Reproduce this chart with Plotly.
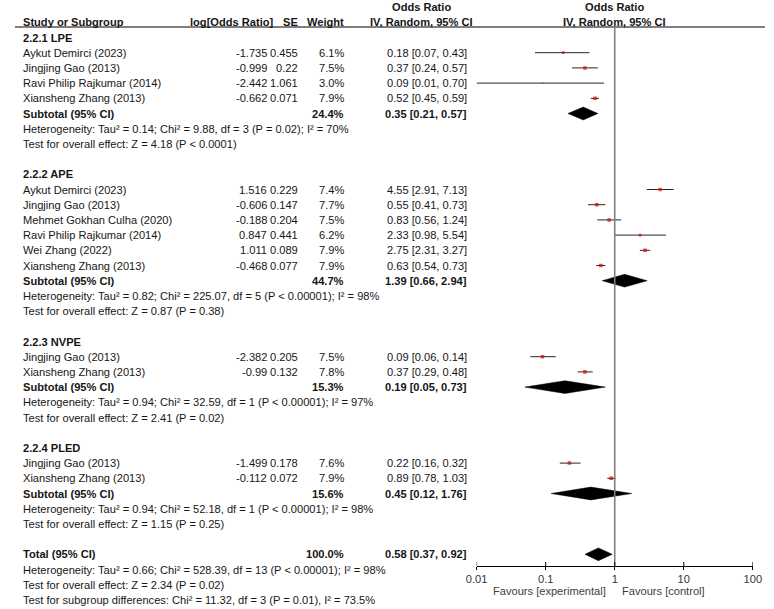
import plotly.graph_objects as go

# ---------------- data ----------------
lpe_studies = ["Aykut Demirci (2023)", "Jingjing Gao (2013)", "Ravi Philip Rajkumar (2014)", "Xiansheng Zhang (2013)"]
lpe_logor = [-1.735, -0.999, -2.442, -0.662]
lpe_se = [0.455, 0.22, 1.061, 0.071]
lpe_weight = [6.1, 7.5, 3.0, 7.9]
lpe_or = [0.18, 0.37, 0.09, 0.52]
lpe_lo = [0.07, 0.24, 0.01, 0.45]
lpe_hi = [0.43, 0.57, 0.70, 0.59]
lpe_subtotal = [24.4, 0.35, 0.21, 0.57]
lpe_het = "Heterogeneity: Tau² = 0.14; Chi² = 9.88, df = 3 (P = 0.02); I² = 70%"
lpe_test = "Test for overall effect: Z = 4.18 (P < 0.0001)"

ape_studies = ["Aykut Demirci (2023)", "Jingjing Gao (2013)", "Mehmet Gokhan Culha (2020)",
               "Ravi Philip Rajkumar (2014)", "Wei Zhang (2022)", "Xiansheng Zhang (2013)"]
ape_logor = [1.516, -0.606, -0.188, 0.847, 1.011, -0.468]
ape_se = [0.229, 0.147, 0.204, 0.441, 0.089, 0.077]
ape_weight = [7.4, 7.7, 7.5, 6.2, 7.9, 7.9]
ape_or = [4.55, 0.55, 0.83, 2.33, 2.75, 0.63]
ape_lo = [2.91, 0.41, 0.56, 0.98, 2.31, 0.54]
ape_hi = [7.13, 0.73, 1.24, 5.54, 3.27, 0.73]
ape_subtotal = [44.7, 1.39, 0.66, 2.94]
ape_het = "Heterogeneity: Tau² = 0.82; Chi² = 225.07, df = 5 (P < 0.00001); I² = 98%"
ape_test = "Test for overall effect: Z = 0.87 (P = 0.38)"

nvpe_studies = ["Jingjing Gao (2013)", "Xiansheng Zhang (2013)"]
nvpe_logor = [-2.382, -0.99]
nvpe_se = [0.205, 0.132]
nvpe_weight = [7.5, 7.8]
nvpe_or = [0.09, 0.37]
nvpe_lo = [0.06, 0.29]
nvpe_hi = [0.14, 0.48]
nvpe_subtotal = [15.3, 0.19, 0.05, 0.73]
nvpe_het = "Heterogeneity: Tau² = 0.94; Chi² = 32.59, df = 1 (P < 0.00001); I² = 97%"
nvpe_test = "Test for overall effect: Z = 2.41 (P = 0.02)"

pled_studies = ["Jingjing Gao (2013)", "Xiansheng Zhang (2013)"]
pled_logor = [-1.499, -0.112]
pled_se = [0.178, 0.072]
pled_weight = [7.6, 7.9]
pled_or = [0.22, 0.89]
pled_lo = [0.16, 0.78]
pled_hi = [0.32, 1.03]
pled_subtotal = [15.6, 0.45, 0.12, 1.76]
pled_het = "Heterogeneity: Tau² = 0.94; Chi² = 52.18, df = 1 (P < 0.00001); I² = 98%"
pled_test = "Test for overall effect: Z = 1.15 (P = 0.25)"

group_titles = ["2.2.1 LPE", "2.2.2 APE", "2.2.3 NVPE", "2.2.4 PLED"]

total_values = [100.0, 0.58, 0.37, 0.92]
total_het = "Heterogeneity: Tau² = 0.66; Chi² = 528.39, df = 13 (P < 0.00001); I² = 98%"
total_test = "Test for overall effect: Z = 2.34 (P = 0.02)"
subgroup_test = "Test for subgroup differences: Chi² = 11.32, df = 3 (P = 0.01), I² = 73.5%"

axis_ticks = [0.01, 0.1, 1, 10, 100]
axis_ticklabels = ["0.01", "0.1", "1", "10", "100"]

# ---------------- layout geometry ----------------
W, H = 774, 609
ROW0, ROWH = 37.5, 15.2          # pixel y of first row, row spacing
AXIS_Y = 566                     # pixel y of forest x axis
FX0, FX1 = 478, 761.5            # pixel extent of forest axis (0.01 .. 100)
FONT = "Liberation Sans, Arial, sans-serif"
FS = 11.1
TXT = "#161616"

X_LEFT = 11
X_LOGOR = 264
X_SE = 296
X_W = 343
X_CI = 469

groups = [
    (lpe_studies, lpe_logor, lpe_se, lpe_weight, lpe_or, lpe_lo, lpe_hi, lpe_subtotal, lpe_het, lpe_test),
    (ape_studies, ape_logor, ape_se, ape_weight, ape_or, ape_lo, ape_hi, ape_subtotal, ape_het, ape_test),
    (nvpe_studies, nvpe_logor, nvpe_se, nvpe_weight, nvpe_or, nvpe_lo, nvpe_hi, nvpe_subtotal, nvpe_het, nvpe_test),
    (pled_studies, pled_logor, pled_se, pled_weight, pled_or, pled_lo, pled_hi, pled_subtotal, pled_het, pled_test),
]

annotations = []


def txt(xpx, row, s, anchor="left", bold=False, color=TXT, size=FS):
    annotations.append(dict(
        x=xpx / W, xref="paper", y=row, yref="y", text=("<b>%s</b>" % s) if bold else s,
        xanchor=anchor, yanchor="middle", showarrow=False, borderpad=0,
        font=dict(family=FONT, size=size, color=color)))


def ci_text(o, l, h):
    return "%.2f [%.2f, %.2f]" % (o, l, h)


# headers
txt(421, -2, "Odds Ratio", "center", bold=True)
txt(620, -2, "Odds Ratio", "center", bold=True)
txt(X_LEFT, -1, "Study or Subgroup", "left", bold=True)
txt(270, -1, "log[Odds Ratio]", "right", bold=True)
txt(X_SE, -1, "SE", "right", bold=True)
txt(X_W, -1, "Weight", "right", bold=True)
txt(421, -1, "IV, Random, 95% CI", "center", bold=True)
txt(620, -1, "IV, Random, 95% CI", "center", bold=True)

ci_x, ci_y = [], []
sq_x, sq_y, sq_s = [], [], []
diamonds = []

row = 0
for title, g in zip(group_titles, groups):
    studies, logor, se, wt, orr, lo, hi, sub, het, test = g
    txt(X_LEFT, row, title, "left", bold=True)
    row += 1
    for i in range(len(studies)):
        txt(X_LEFT, row, studies[i])
        txt(X_LOGOR, row, str(logor[i]), "right")
        txt(X_SE, row, str(se[i]), "right")
        txt(X_W, row, "%.1f%%" % wt[i], "right")
        txt(X_CI, row, ci_text(orr[i], lo[i], hi[i]), "right")
        ci_x += [lo[i], hi[i], None]
        ci_y += [row, row, None]
        sq_x.append(orr[i]); sq_y.append(row); sq_s.append(wt[i] * 0.46)
        row += 1
    txt(X_LEFT, row, "Subtotal (95% CI)", bold=True)
    txt(X_W, row, "%.1f%%" % sub[0], "right", bold=True)
    txt(X_CI, row, ci_text(sub[1], sub[2], sub[3]), "right", bold=True)
    diamonds.append((row, sub[1], sub[2], sub[3]))
    row += 1
    txt(X_LEFT, row, het); row += 1
    txt(X_LEFT, row, test); row += 1
    row += 1

txt(X_LEFT, row, "Total (95% CI)", bold=True)
txt(X_W, row, "%.1f%%" % total_values[0], "right", bold=True)
txt(X_CI, row, ci_text(total_values[1], total_values[2], total_values[3]), "right", bold=True)
diamonds.append((row, total_values[1], total_values[2], total_values[3]))
row += 1
txt(X_LEFT, row, total_het); row += 1
txt(X_LEFT, row, total_test); row += 1
txt(X_LEFT, row, subgroup_test); row += 1

fig = go.Figure()

fig.add_trace(go.Scatter(x=ci_x, y=ci_y, mode="lines", line=dict(color="#262626", width=1),
                         hoverinfo="skip", showlegend=False))
fig.add_trace(go.Scatter(x=sq_x, y=sq_y, mode="markers",
                         marker=dict(symbol="square", size=sq_s, color="#e00000", line=dict(width=0)),
                         hoverinfo="skip", showlegend=False))
HALF = 0.42
for r, est, l, h in diamonds:
    fig.add_trace(go.Scatter(x=[l, est, h, est, l], y=[r, r - HALF, r, r + HALF, r],
                             mode="lines", fill="toself", fillcolor="black",
                             line=dict(color="black", width=0.5), hoverinfo="skip", showlegend=False))

row_of = lambda px: (px - ROW0) / ROWH
axis_pos = (H - AXIS_Y) / H

shapes = [
    # header underline
    dict(type="line", xref="paper", yref="paper", x0=4 / W, x1=1, y0=1 - 27 / H, y1=1 - 27 / H,
         line=dict(color="#555555", width=1.3)),
    # line of no effect
    dict(type="line", xref="x", yref="paper", x0=1, x1=1, y0=axis_pos, y1=1 - 27 / H,
         line=dict(color="#808080", width=1.6)),
]
for tv in axis_ticks:
    shapes.append(dict(type="line", xref="x", yref="paper", x0=tv, x1=tv,
                       y0=axis_pos, y1=axis_pos + 4 / H, line=dict(color="black", width=1)))

# favours labels
for label, xpx, anch in [("Favours [experimental]", 612, "right"), ("Favours [control]", 626, "left")]:
    annotations.append(dict(x=xpx / W, xref="paper", y=1 - 591 / H, yref="paper", text=label,
                            xanchor=anch, yanchor="middle", showarrow=False, borderpad=0,
                            font=dict(family=FONT, size=FS, color="#404040")))

fig.update_layout(
    width=W, height=H, margin=dict(l=0, r=0, t=0, b=0),
    paper_bgcolor="white", plot_bgcolor="white",
    showlegend=False, hovermode=False,
    annotations=annotations, shapes=shapes,
    xaxis=dict(type="log", range=[-2, 2], domain=[FX0 / W, FX1 / W], anchor="free", position=axis_pos,
               tickvals=axis_ticks, ticktext=axis_ticklabels, showline=True, linecolor="black", linewidth=1,
               ticks="outside", ticklen=3, tickcolor="black", tickwidth=1, showgrid=False, zeroline=False,
               tickfont=dict(family=FONT, size=FS, color="#333333")),
    yaxis=dict(range=[row_of(H), row_of(0)], domain=[0, 1], visible=False, showgrid=False, zeroline=False),
)

fig.write_html("out.html")
